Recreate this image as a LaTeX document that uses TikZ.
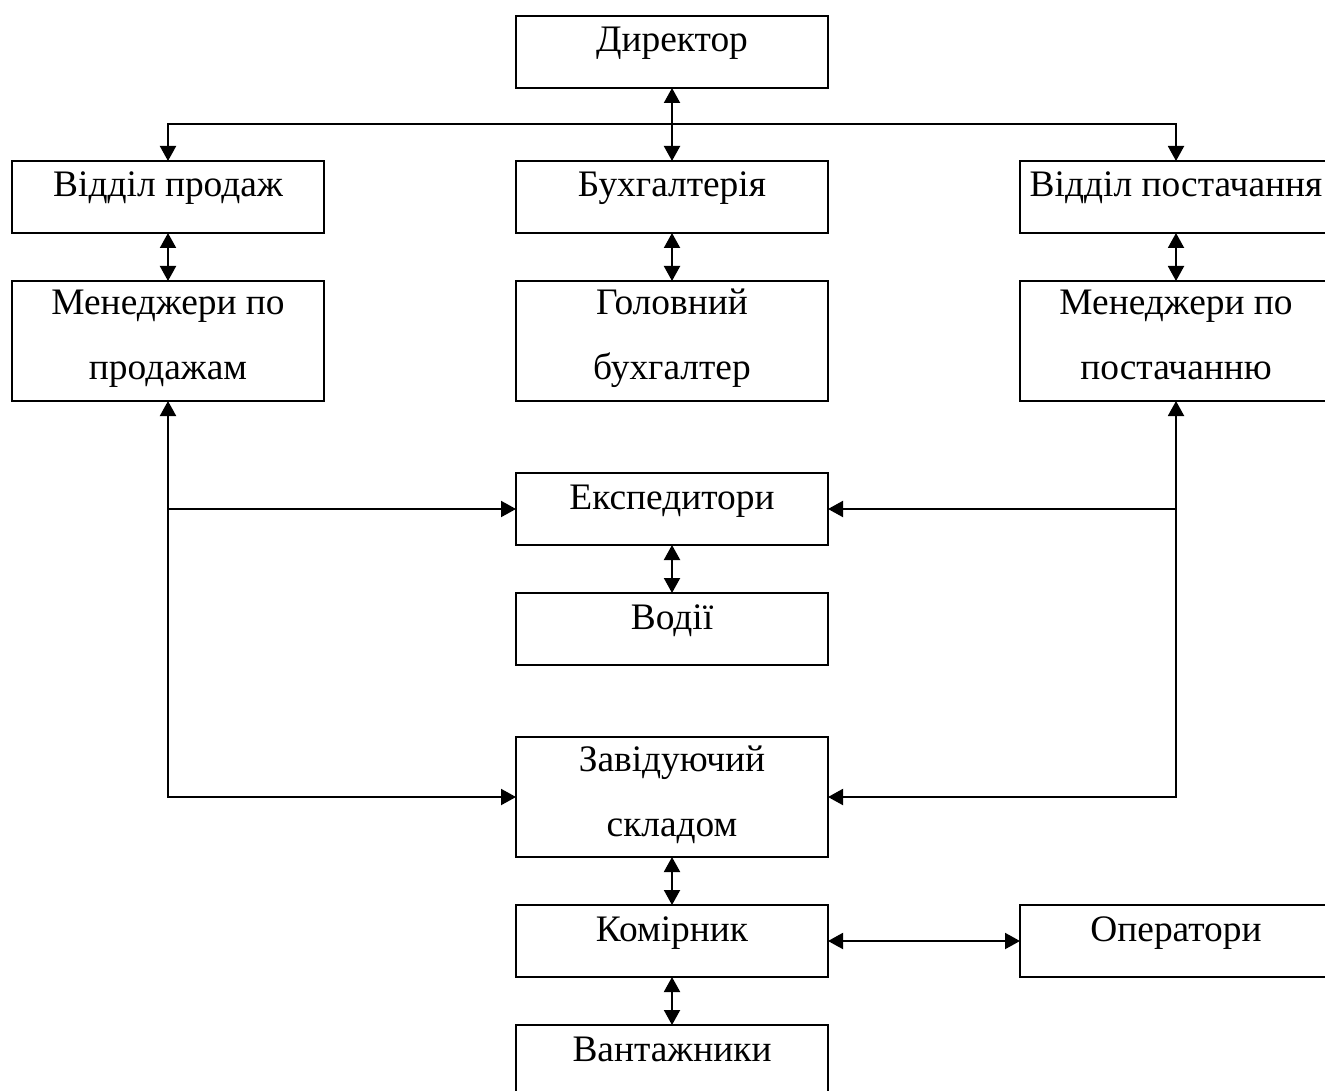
\documentclass[tikz,border=0pt]{standalone}
\usepackage{fontspec}
\setmainfont{Liberation Serif}
\usetikzlibrary{arrows.meta,positioning,calc}

\begin{document}
\begin{tikzpicture}[>={Triangle[length=3.75pt,width=4pt]},x=0.25pt,y=-0.25pt,node distance=12pt and 48pt]
  \tikzstyle{box}=[draw,line width=0.6pt,inner sep=0pt,outer sep=0pt,minimum width=78pt,align=center,font=\fontsize{9.35}{16.25}\selectfont]
  \tikzstyle{one}=[box,text height=9pt,text depth=9pt]
  \tikzstyle{two}=[box,text height=24.75pt,text depth=5.25pt]
  \tikzstyle{link}=[line width=0.5pt]
  \useasboundingbox (0,0) rectangle (1325,1090);
  \node[one] (dir) at (672,52) {Директор};
  \node[one,below=18.25pt of dir] (acc) {Бухгалтерія};
  \node[one,left=48pt of acc] (sales) {Відділ продаж};
  \node[one,right=48pt of acc] (supply) {Відділ постачання};
  \node[two,below=of sales] (mgrs) {Менеджери по\\продажам};
  \node[two,below=of acc] (chief) {Головний\\бухгалтер};
  \node[two,below=of supply] (mgrp) {Менеджери по\\постачанню};
  \node[one,below=18pt of chief] (exp) {Експедитори};
  \node[one,below=of exp] (drv) {Водії};
  \node[two,below=18pt of drv] (head) {Завідуючий\\складом};
  \node[one,below=of head] (keeper) {Комірник};
  \node[one,right=48pt of keeper] (oper) {Оператори};
  \node[one,below=of keeper] (load) {Вантажники};
  % director to departments
  \coordinate (bus) at ($(dir.south)!0.5!(acc.north)$);
  \draw[link,<->] (dir) -- (acc);
  \draw[link,->] (bus) -| (sales);
  \draw[link,->] (bus) -| (supply);
  \draw[link,<->] (sales) -- (mgrs);
  \draw[link,<->] (acc) -- (chief);
  \draw[link,<->] (supply) -- (mgrp);
  % managers to expeditors and warehouse
  \draw[link,<->] (mgrs) |- (head);
  \draw[link,->] (mgrs |- exp) -- (exp);
  \draw[link,<->] (mgrp) |- (head);
  \draw[link,->] (mgrp |- exp) -- (exp);
  \draw[link,<->] (exp) -- (drv);
  % warehouse
  \draw[link,<->] (head) -- (keeper);
  \draw[link,<->] (keeper) -- (oper);
  \draw[link,<->] (keeper) -- (load);
\end{tikzpicture}
\end{document}
